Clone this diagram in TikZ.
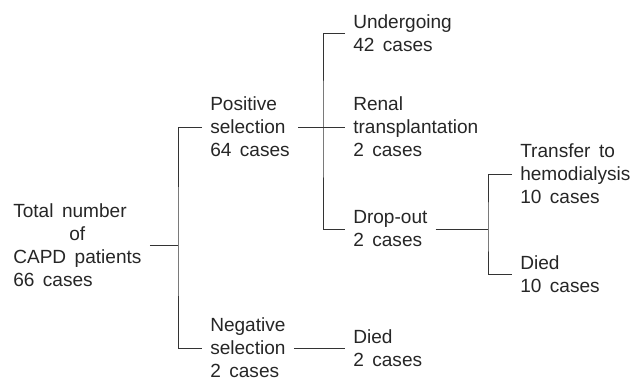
\documentclass[tikz,border=0pt]{standalone}
\usepackage{fontspec}
\setmainfont{Liberation Sans}[WordSpace=1.6]
\tikzset{
  entry/.style  = {align=left, anchor=west, inner xsep=6pt, inner ysep=0pt,
                   text=black!85, font=\fontsize{14.3}{17.25}\selectfont},
  branch/.style = {draw=black!80, line width=0.75pt}
}

\begin{document}
\begin{tikzpicture}[x=0.75pt, y=-0.75pt]
\useasboundingbox (0,0) rectangle (640,382);

% the whole group, level 1
\node[entry] (root) at (5,245) {Total number\\\hspace*{42pt}of\\CAPD patients\\66 cases};

% selection, level 2
\node[entry] (pos) at (202,127) {Positive\\selection\\64 cases};
\node[entry] (neg) at (202,348) {Negative\\selection\\2 cases};

% outcomes, level 3
\node[entry] (und)   at (345,33)  {Undergoing\\42 cases};
\node[entry] (ren)   at (345,127) {Renal\\transplantation\\2 cases};
\node[entry] (drop)  at (345,229) {Drop-out\\2 cases};
\node[entry] (died2) at (345,348) {Died\\2 cases};

% after drop-out, level 4
\node[entry] (trans) at (512,174) {Transfer to\\hemodialysis\\10 cases};
\node[entry] (died1) at (512,274) {Died\\10 cases};

% forks
\coordinate (j0) at (178,245);
\coordinate (j1) at (323,127);
\coordinate (j2) at (488,229);

\draw[branch] (root.east) -- (j0);
\draw[branch] (pos.west) -| (j0) |- (neg.west);

\draw[branch] (pos.east) -- (ren.west);
\draw[branch] (und.west) -| (j1) |- (drop.west);

\draw[branch] (drop.east) -- (j2);
\draw[branch] (trans.west) -| (j2) |- (died1.west);

\draw[branch] (neg.east) -- (died2.west);
\end{tikzpicture}
\end{document}
